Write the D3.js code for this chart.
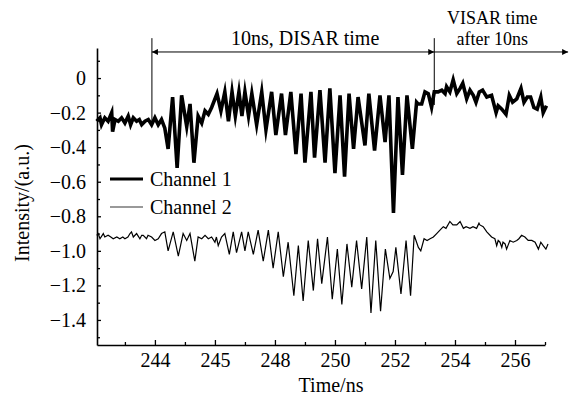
<!DOCTYPE html>
<html>
<head>
<meta charset="utf-8">
<script src="https://cdn.jsdelivr.net/npm/d3@7"></script>
<style>
  body { margin: 0; background: #fff; }
  svg { display: block; }
  text { font-family: "Liberation Serif", "Times New Roman", serif; fill: #000; }
</style>
</head>
<body>
<div id="chart"></div>
<script>
// channel 1 vertices (time in ns, intensity in a.u.)
const ch1Time = [242.06, 242.17, 242.22, 242.33, 242.44, 242.56, 242.59, 242.67, 242.78, 242.89,
  243.00, 243.11, 243.19, 243.28, 243.39, 243.48, 243.56, 243.67, 243.78, 243.89,
  244.00, 244.11, 244.22, 244.33, 244.44, 244.59, 244.74, 244.89, 245.06, 245.17,
  245.30, 245.44, 245.56, 245.67, 245.78, 245.89, 246.07, 246.20, 246.33, 246.45,
  246.57, 246.68, 246.80, 246.90, 247.00, 247.12, 247.23, 247.39, 247.56, 247.70,
  247.89, 248.03, 248.22, 248.35, 248.53, 248.70, 248.87, 249.00, 249.20, 249.32,
  249.50, 249.67, 249.83, 250.00, 250.17, 250.32, 250.47, 250.62, 250.77, 251.00,
  251.13, 251.32, 251.50, 251.67, 251.80, 251.95, 252.10, 252.25, 252.40, 252.58,
  252.72, 252.77, 252.89, 253.00, 253.11, 253.22, 253.31, 253.44, 253.56, 253.67,
  253.72, 253.83, 253.94, 254.06, 254.17, 254.26, 254.39, 254.50, 254.61, 254.70,
  254.81, 254.92, 255.06, 255.22, 255.37, 255.44, 255.56, 255.70, 255.81, 255.92,
  256.06, 256.20, 256.30, 256.41, 256.52, 256.63, 256.74, 256.86, 256.94, 257.05];
const ch1Val = [-0.25, -0.23, -0.27, -0.23, -0.25, -0.20, -0.31, -0.24, -0.25, -0.23,
  -0.26, -0.22, -0.27, -0.23, -0.25, -0.24, -0.27, -0.25, -0.24, -0.27,
  -0.23, -0.27, -0.24, -0.29, -0.41, -0.11, -0.52, -0.10, -0.28, -0.15,
  -0.49, -0.22, -0.26, -0.19, -0.21, -0.17, -0.09, -0.19, -0.08, -0.25,
  -0.08, -0.22, -0.08, -0.22, -0.08, -0.22, -0.09, -0.27, -0.08, -0.30,
  -0.08, -0.33, -0.09, -0.33, -0.08, -0.44, -0.09, -0.49, -0.08, -0.46,
  -0.07, -0.49, -0.06, -0.55, -0.10, -0.57, -0.09, -0.41, -0.11, -0.39,
  -0.09, -0.42, -0.10, -0.37, -0.10, -0.78, -0.11, -0.56, -0.10, -0.41,
  -0.14, -0.15, -0.15, -0.08, -0.09, -0.17, -0.08, -0.08, -0.07, -0.09,
  -0.05, -0.08, -0.01, -0.09, -0.06, -0.03, -0.12, -0.07, -0.10, -0.14,
  -0.08, -0.07, -0.11, -0.10, -0.20, -0.16, -0.18, -0.21, -0.10, -0.14,
  -0.12, -0.06, -0.14, -0.11, -0.11, -0.17, -0.18, -0.11, -0.20, -0.16];

// channel 2 vertices
const ch2Time = [242.06, 242.11, 242.17, 242.28, 242.33, 242.44, 242.53, 242.61, 242.73, 242.83,
  242.93, 243.00, 243.10, 243.17, 243.22, 243.28, 243.39, 243.50, 243.56, 243.61,
  243.72, 243.77, 243.89, 244.00, 244.11, 244.22, 244.33, 244.44, 244.61, 244.78,
  244.94, 245.06, 245.17, 245.33, 245.44, 245.56, 245.67, 245.78, 245.89, 246.00,
  246.05, 246.11, 246.22, 246.33, 246.48, 246.61, 246.72, 246.89, 247.00, 247.11,
  247.28, 247.44, 247.61, 247.78, 247.94, 248.11, 248.28, 248.44, 248.63, 248.78,
  248.94, 249.11, 249.28, 249.42, 249.56, 249.75, 249.91, 250.08, 250.23, 250.40,
  250.56, 250.72, 250.89, 251.06, 251.20, 251.36, 251.52, 251.68, 251.83, 251.94,
  252.03, 252.20, 252.37, 252.52, 252.64, 252.78, 252.86, 252.97, 253.07, 253.17,
  253.28, 253.39, 253.50, 253.61, 253.70, 253.83, 253.93, 254.06, 254.17, 254.28,
  254.37, 254.50, 254.60, 254.72, 254.80, 254.83, 254.94, 255.06, 255.22, 255.33,
  255.39, 255.44, 255.50, 255.56, 255.60, 255.67, 255.72, 255.83, 255.94, 256.06,
  256.13, 256.22, 256.33, 256.44, 256.56, 256.67, 256.78, 256.86, 256.94, 257.03, 257.10];
const ch2Val = [-0.91, -0.90, -0.93, -0.90, -0.92, -0.91, -0.92, -0.93, -0.92, -0.93,
  -0.92, -0.93, -0.92, -0.90, -0.89, -0.92, -0.90, -0.93, -0.91, -0.91,
  -0.93, -0.91, -0.92, -0.94, -0.93, -0.90, -0.89, -1.00, -0.89, -1.03,
  -0.90, -0.94, -0.90, -1.06, -0.92, -0.93, -0.91, -0.93, -0.92, -0.95,
  -0.92, -0.97, -0.92, -0.90, -1.02, -0.89, -1.01, -0.89, -1.00, -0.89,
  -1.02, -0.88, -1.06, -0.88, -1.10, -0.89, -1.15, -0.95, -1.26, -0.97,
  -1.29, -0.94, -1.23, -0.93, -1.19, -0.92, -1.28, -0.99, -1.31, -0.96,
  -1.21, -0.94, -1.22, -0.92, -1.36, -0.94, -1.35, -0.99, -1.16, -1.12,
  -0.98, -1.25, -0.94, -1.26, -0.91, -0.98, -1.00, -0.93, -0.94, -0.93,
  -0.92, -0.90, -0.88, -0.86, -0.87, -0.83, -0.85, -0.85, -0.83, -0.87,
  -0.86, -0.87, -0.86, -0.87, -0.84, -0.85, -0.86, -0.89, -0.92, -0.93,
  -0.97, -0.94, -0.95, -0.98, -0.95, -0.96, -0.99, -0.94, -0.95, -0.94,
  -0.93, -0.91, -0.92, -0.94, -0.94, -0.95, -0.99, -0.95, -0.97, -0.99, -0.96];

const xTickValues = [244, 246, 248, 250, 252, 254, 256];
const xTickLabels = ["244", "245", "248", "250", "252", "254", "256"];
const yTickValues = [0, -0.2, -0.4, -0.6, -0.8, -1.0, -1.2, -1.4];
const seriesNames = ["Channel 1", "Channel 2"];

// DISAR window start / end, end of the VISAR arrow (ns)
const windowMarks = [243.9, 253.31];
const visarArrowEnd = 257.77;

const width = 579, height = 397;
const margin = { top: 48, right: 34, bottom: 52, left: 97 };

const svg = d3.select("#chart").append("svg")
  .attr("width", width)
  .attr("height", height);

const x = d3.scaleLinear()
  .domain([242.07, 257])
  .range([margin.left, width - margin.right]);

const y = d3.scaleLinear()
  .domain([-1.545, 0.174])
  .range([height - margin.bottom, margin.top]);

const fmtY = d => d === 0 ? "0" : d3.format(".1f")(d).replace("-", "\u2212");

// minor ticks first, then the major axes on top
svg.append("g")
  .attr("transform", `translate(0,${y.range()[0]})`)
  .call(d3.axisBottom(x).tickValues(d3.range(243, 257.5, 2)).tickSize(-3).tickFormat(""))
  .call(g => g.select(".domain").remove());

svg.append("g")
  .attr("transform", `translate(${x.range()[0]},0)`)
  .call(d3.axisLeft(y).tickValues(d3.range(-15, 2, 2).map(v => v / 10)).tickSize(-3).tickFormat(""))
  .call(g => g.select(".domain").remove());

const xAxis = svg.append("g")
  .attr("transform", `translate(0,${y.range()[0]})`)
  .call(d3.axisBottom(x)
    .tickValues(xTickValues)
    .tickFormat((d, i) => xTickLabels[i])
    .tickSize(-5)
    .tickSizeOuter(0)
    .tickPadding(8));

const yAxis = svg.append("g")
  .attr("transform", `translate(${x.range()[0]},0)`)
  .call(d3.axisLeft(y)
    .tickValues(yTickValues)
    .tickFormat(fmtY)
    .tickSize(-4)
    .tickSizeOuter(0)
    .tickPadding(11));

svg.selectAll(".tick line").attr("stroke", "#000").attr("stroke-width", 1.3);
[xAxis, yAxis].forEach(g => {
  g.select(".domain").attr("stroke", "#000").attr("stroke-width", 1.6);
  g.selectAll("text")
    .style("font-family", '"Liberation Serif", serif')
    .style("font-size", "20px")
    .attr("fill", "#000");
});

// axis titles
svg.append("text")
  .attr("x", 331)
  .attr("y", 392)
  .attr("text-anchor", "middle")
  .style("font-size", "20px")
  .text("Time/ns");

svg.append("text")
  .attr("transform", "translate(29,203) rotate(-90)")
  .attr("text-anchor", "middle")
  .style("font-size", "20px")
  .text("Intensity/(a.u.)");

// signals
const line = d3.line()
  .x(d => x(d[0]))
  .y(d => y(d[1]));

svg.append("path")
  .datum(d3.zip(ch2Time, ch2Val))
  .attr("fill", "none")
  .attr("stroke", "#000")
  .attr("stroke-width", 1.2)
  .attr("d", line);

svg.append("path")
  .datum(d3.zip(ch1Time, ch1Val))
  .attr("fill", "none")
  .attr("stroke", "#000")
  .attr("stroke-width", 3.6)
  .attr("stroke-linejoin", "miter")
  .attr("stroke-miterlimit", 8)
  .attr("d", line);

// legend
const legend = svg.append("g");
[{ w: 3.2, c: "#000", yy: 179 }, { w: 1.6, c: "#777", yy: 207 }].forEach((s, i) => {
  legend.append("line")
    .attr("x1", 110).attr("x2", 143)
    .attr("y1", s.yy).attr("y2", s.yy)
    .attr("stroke", s.c)
    .attr("stroke-width", s.w);
  legend.append("text")
    .attr("x", 150)
    .attr("y", s.yy + 7)
    .style("font-size", "20px")
    .text(seriesNames[i]);
});

// annotation: DISAR window and VISAR arrow
const defs = svg.append("defs");
const arrowHead = (id, orient) => defs.append("marker")
  .attr("id", id)
  .attr("viewBox", "0 0 10 10")
  .attr("refX", 10).attr("refY", 5)
  .attr("markerWidth", 7).attr("markerHeight", 6)
  .attr("markerUnits", "userSpaceOnUse")
  .attr("orient", orient)
  .append("path")
  .attr("d", "M0,0 L10,5 L0,10 Z")
  .attr("fill", "#000");
arrowHead("head", "auto");
arrowHead("headStart", "auto-start-reverse");

const annTop = y(0.231), arrowY = y(0.151);
const markEnds = [-0.263, -0.156];

windowMarks.forEach((t, i) => {
  svg.append("line")
    .attr("x1", x(t)).attr("x2", x(t))
    .attr("y1", annTop).attr("y2", y(markEnds[i]))
    .attr("stroke", "#000")
    .attr("stroke-width", 1);
});

svg.append("line")
  .attr("x1", x(windowMarks[0])).attr("x2", x(windowMarks[1]))
  .attr("y1", arrowY).attr("y2", arrowY)
  .attr("stroke", "#000").attr("stroke-width", 1)
  .attr("marker-start", "url(#headStart)")
  .attr("marker-end", "url(#head)");

svg.append("line")
  .attr("x1", x(windowMarks[1])).attr("x2", x(visarArrowEnd))
  .attr("y1", arrowY).attr("y2", arrowY)
  .attr("stroke", "#000").attr("stroke-width", 1)
  .attr("marker-end", "url(#head)");

svg.append("text")
  .attr("x", (x(windowMarks[0]) + x(windowMarks[1])) / 2 + 12)
  .attr("y", 45)
  .attr("text-anchor", "middle")
  .style("font-size", "20px")
  .text("10ns, DISAR time");

// two-line label above the VISAR arrow
const visarX = (x(windowMarks[1]) + x(visarArrowEnd)) / 2 - 9;
svg.append("text")
  .attr("x", visarX).attr("y", 45)
  .attr("text-anchor", "middle")
  .style("font-size", "18px")
  .selectAll("tspan")
  .data(["VISAR time", "after 10ns"])
  .join("tspan")
  .attr("x", visarX)
  .attr("dy", (d, i) => i === 0 ? "-21" : "21")
  .text(d => d);
</script>
</body>
</html>
